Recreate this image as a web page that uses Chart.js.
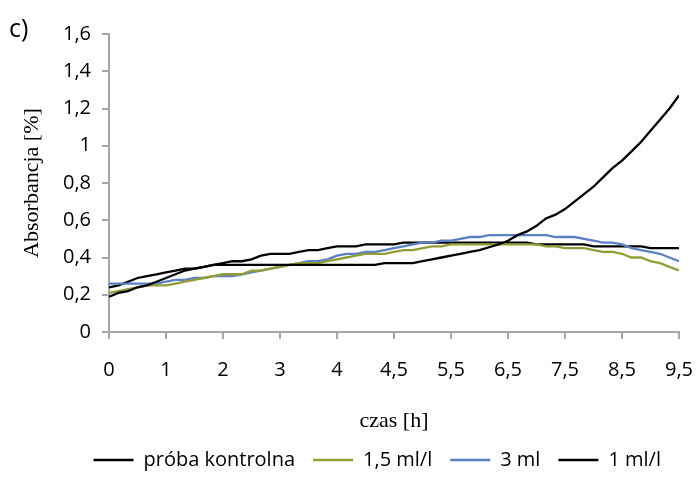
<!DOCTYPE html>
<html>
<head>
<meta charset="utf-8">
<script src="https://cdn.jsdelivr.net/npm/chart.js@4.4.1/dist/chart.umd.min.js"></script>
<style>
    html, body { margin: 0; padding: 0; background: #fff; }
    #wrap { position: relative; width: 696px; height: 480px; }
    #panel {
        position: absolute; left: 9px; top: 10px;
        font: 25px "Open Sans", sans-serif; color: #000;
    }
</style>
</head>
<body>
<div id="wrap">
    <canvas id="chart" width="696" height="480"></canvas>
    <div id="panel">c)</div>
</div>
<script>
// measurement index runs 0..60, a label every 6 points
const tickLabels = ['0', '1', '2', '3', '4', '4,5', '5,5', '6,5', '7,5', '8,5', '9,5'];
const pointsPerTick = 6;

const seriesNames = ['próba kontrolna', '1,5 ml/l', '3 ml', '1 ml/l'];
const seriesColors = ['#000000', '#939d35', '#5b80c4', '#000000'];

const kontrola = [
    0.19, 0.21, 0.22, 0.24, 0.25, 0.27, 0.29, 0.31, 0.33, 0.34,
    0.35, 0.36, 0.36, 0.36, 0.36, 0.36, 0.36, 0.36, 0.36, 0.36,
    0.36, 0.36, 0.36, 0.36, 0.36, 0.36, 0.36, 0.36, 0.36, 0.37,
    0.37, 0.37, 0.37, 0.38, 0.39, 0.40, 0.41, 0.42, 0.43, 0.44,
    0.455, 0.47, 0.49, 0.52, 0.54, 0.57, 0.61, 0.63, 0.66, 0.70,
    0.74, 0.78, 0.83, 0.88, 0.92, 0.97, 1.02, 1.08, 1.14, 1.20,
    1.27
];
const dawka15 = [
    0.21, 0.22, 0.23, 0.24, 0.25, 0.25, 0.25, 0.26, 0.27, 0.28,
    0.29, 0.30, 0.31, 0.31, 0.31, 0.33, 0.33, 0.34, 0.35, 0.36,
    0.37, 0.37, 0.37, 0.38, 0.39, 0.40, 0.41, 0.42, 0.42, 0.42,
    0.43, 0.44, 0.44, 0.45, 0.46, 0.46, 0.47, 0.47, 0.47, 0.47,
    0.47, 0.47, 0.47, 0.47, 0.47, 0.47, 0.46, 0.46, 0.45, 0.45,
    0.45, 0.44, 0.43, 0.43, 0.42, 0.40, 0.40, 0.38, 0.37, 0.35,
    0.33
];
const dawka3 = [
    0.26, 0.26, 0.26, 0.26, 0.26, 0.26, 0.27, 0.28, 0.28, 0.29,
    0.29, 0.30, 0.30, 0.30, 0.31, 0.32, 0.33, 0.34, 0.35, 0.36,
    0.37, 0.38, 0.38, 0.39, 0.41, 0.42, 0.42, 0.43, 0.43, 0.44,
    0.45, 0.46, 0.47, 0.48, 0.48, 0.49, 0.49, 0.50, 0.51, 0.51,
    0.52, 0.52, 0.52, 0.52, 0.52, 0.52, 0.52, 0.51, 0.51, 0.51,
    0.50, 0.49, 0.48, 0.48, 0.47, 0.45, 0.44, 0.43, 0.42, 0.40,
    0.38
];
const dawka1 = [
    0.24, 0.25, 0.27, 0.29, 0.30, 0.31, 0.32, 0.33, 0.34, 0.34,
    0.35, 0.36, 0.37, 0.38, 0.38, 0.39, 0.41, 0.42, 0.42, 0.42,
    0.43, 0.44, 0.44, 0.45, 0.46, 0.46, 0.46, 0.47, 0.47, 0.47,
    0.47, 0.48, 0.48, 0.48, 0.48, 0.48, 0.48, 0.48, 0.48, 0.48,
    0.48, 0.48, 0.48, 0.48, 0.48, 0.47, 0.47, 0.47, 0.47, 0.47,
    0.47, 0.46, 0.46, 0.46, 0.46, 0.46, 0.46, 0.45, 0.45, 0.45,
    0.45
];

const allSeries = [kontrola, dawka15, dawka3, dawka1];
const indices = kontrola.map((_, i) => i);

const axisGrey = '#a6a6a6';
const sans = '"Open Sans", "Noto Sans", sans-serif';
const serif = '"Liberation Serif", "DejaVu Serif", serif';

const fmt = v => String(Math.round(v * 10) / 10).replace('.', ',');

new Chart(document.getElementById('chart'), {
    type: 'line',
    data: {
        labels: indices,
        datasets: allSeries.map((values, k) => ({
            label: seriesNames[k],
            data: values,
            borderColor: seriesColors[k],
            backgroundColor: seriesColors[k],
            borderWidth: 2.3,
            pointRadius: 0,
            tension: 0,
            fill: false
        }))
    },
    options: {
        responsive: false,
        animation: false,
        layout: { padding: { left: 0, right: 17, top: 34, bottom: 0 } },
        plugins: {
            tooltip: { enabled: false },
            legend: {
                position: 'bottom',
                align: 'end',
                labels: {
                    color: '#000',
                    font: { family: sans, size: 20 },
                    boxWidth: 40,
                    boxHeight: 0,
                    padding: 18
                }
            }
        },
        scales: {
            x: {
                type: 'linear',
                min: 0,
                max: indices.length - 1,
                afterFit: s => { s.height = 100; },
                ticks: {
                    stepSize: pointsPerTick,
                    autoSkip: false,
                    maxRotation: 0,
                    color: '#000',
                    // tall line box pushes the labels down without widening the side padding
                    font: { family: sans, size: 20, lineHeight: 2.9 },
                    padding: 2,
                    callback: v => tickLabels[v / pointsPerTick]
                },
                grid: { drawOnChartArea: false, tickLength: 7, color: axisGrey, lineWidth: 2 },
                border: { color: axisGrey, width: 2 },
                title: {
                    display: true,
                    text: 'czas [h]',
                    color: '#000',
                    font: { family: serif, size: 22, lineHeight: 1 },
                    padding: { top: 0, bottom: 0 }
                }
            },
            y: {
                min: 0,
                max: 1.6,
                afterFit: s => { s.width = 109; },
                ticks: {
                    stepSize: 0.2,
                    color: '#000',
                    font: { family: sans, size: 20 },
                    padding: 11,
                    callback: v => fmt(v)
                },
                grid: { drawOnChartArea: false, tickLength: 7, color: axisGrey, lineWidth: 2 },
                border: { color: axisGrey, width: 2 },
                title: {
                    display: true,
                    text: 'Absorbancja [%]',
                    color: '#000',
                    font: { family: serif, size: 22, lineHeight: 1.2 },
                    padding: { top: 19, bottom: 0 }
                }
            }
        }
    }
});
</script>
</body>
</html>
